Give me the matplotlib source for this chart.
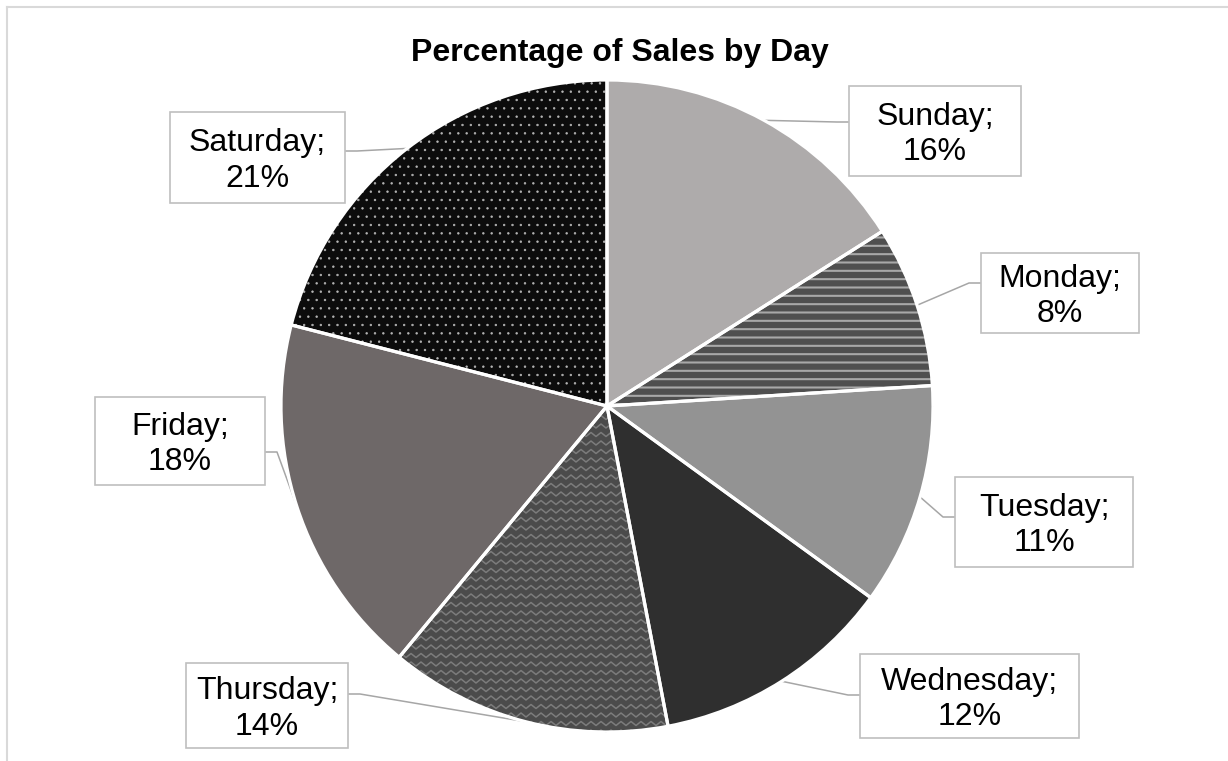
import matplotlib
matplotlib.use('Agg')
import matplotlib.pyplot as plt
import numpy as np
from matplotlib.patches import Wedge, Rectangle
from matplotlib.lines import Line2D

# ---- data ----
days = ['Sunday', 'Monday', 'Tuesday', 'Wednesday', 'Thursday', 'Friday', 'Saturday']
shares = [16, 8, 11, 12, 14, 18, 21]
title = 'Percentage of Sales by Day'

# ---- styles ----
face_colors = ['#aeabab', '#4f4f4f', '#939393', '#2f2f2f', '#4b4b4b', '#6e6868', '#0c0c0c']
hatches = [None, '--', None, None, 'wave', None, '..']
hatch_colors = [None, '#a8a8a8', None, None, '#7c7c7c', None, '#b5b5b5']

# label boxes in pixels: left, top, right, bottom ; attach point on box
boxes = [(849, 86, 1021, 176), (981, 253, 1139, 333), (955, 477, 1133, 567),
         (860, 654, 1079, 738), (186, 663, 348, 748), (95, 397, 265, 485),
         (170, 112, 345, 203)]
attach = [(849, 122), (981, 283), (955, 517), (860, 695), (348, 694), (265, 452), (345, 151)]

W, H = 1228, 761
plt.rcParams['font.family'] = ['Liberation Sans', 'DejaVu Sans']
fig = plt.figure(figsize=(W / 100, H / 100), dpi=100)

cx, cy, R = 607, 406, 326
ax = fig.add_axes([(cx - R) / W, (H - cy - R) / H, 2 * R / W, 2 * R / H])
ax.axis('off')


def px2d(x, y):
    return (x - cx) / R, (cy - y) / R


# figure border
fig.add_artist(Line2D([6.5 / W, 1], [1 - 6.5 / H, 1 - 6.5 / H], transform=fig.transFigure,
                      color='#d9d9d9', lw=1.5))
fig.add_artist(Line2D([6.5 / W, 6.5 / W], [0, 1 - 6.5 / H], transform=fig.transFigure,
                      color='#d9d9d9', lw=1.5))

wedges, _ = ax.pie(shares, startangle=90, counterclock=False, radius=1,
                   colors=face_colors, center=(0, 0), frame=False,
                   wedgeprops=dict(linewidth=0, zorder=2))
ax.set_xlim(-1, 1)
ax.set_ylim(-1, 1)
ax.set_aspect('auto')
ax.axis('off')

for i, w in enumerate(wedges):
    h = hatches[i]
    if h is None:
        continue
    if h == 'wave':
        step = 8.5 / R
        period = 10.0 / R
        amp = 2.0 / R
        xs = np.arange(-1.0, 1.0 + period, period / 2)
        ys_off = np.where(np.arange(len(xs)) % 2 == 0, amp, -amp)
        for y0 in np.arange(-1.0, 1.0, step):
            ln = Line2D(xs, y0 + ys_off, color=hatch_colors[i], lw=1.1, zorder=3)
            ax.add_line(ln)
            ln.set_clip_path(w)
    else:
        lw = 1.5 if h == '--' else 0.5
        with plt.rc_context({'hatch.linewidth': lw}):
            ov = Wedge(w.center, w.r, w.theta1, w.theta2, facecolor='none',
                       edgecolor=hatch_colors[i], lw=0, hatch=h, zorder=3)
        ax.add_patch(ov)

# white separators
for w in wedges:
    ax.add_patch(Wedge(w.center, w.r, w.theta1, w.theta2, fill=False,
                       edgecolor='white', lw=2.3, zorder=4, joinstyle='miter'))

# labels, boxes and leaders
for i, w in enumerate(wedges):
    mid = np.deg2rad((w.theta1 + w.theta2) / 2)
    ex, ey = np.cos(mid), np.sin(mid)
    l, t, r, b = boxes[i]
    axp, ayp = attach[i]
    elbow_x = axp - 12 if axp == l else axp + 12
    p_att = px2d(axp, ayp)
    p_elb = px2d(elbow_x, ayp)
    ax.add_line(Line2D([ex, p_elb[0], p_att[0]], [ey, p_elb[1], p_att[1]],
                       color='#a6a6a6', lw=1.1, zorder=1, clip_on=False))
    x0, y0 = px2d(l, b)
    ax.add_patch(Rectangle((x0, y0), (r - l) / R, (b - t) / R, facecolor='white',
                           edgecolor='#bfbfbf', lw=1.2, zorder=5, clip_on=False))
    tx, ty = px2d((l + r) / 2, (t + b) / 2 + 3.5)
    ax.text(tx, ty, f'{days[i]};\n{shares[i]}%', ha='center', va='center',
            multialignment='center', fontsize=23, linespacing=1.25, color='black',
            zorder=6, clip_on=False)

fig.text(620 / W, 1 - 53 / H, title, ha='center', va='center', fontsize=23,
         fontweight='bold', color='black')

fig.savefig('out.png', dpi=100, facecolor='white')
